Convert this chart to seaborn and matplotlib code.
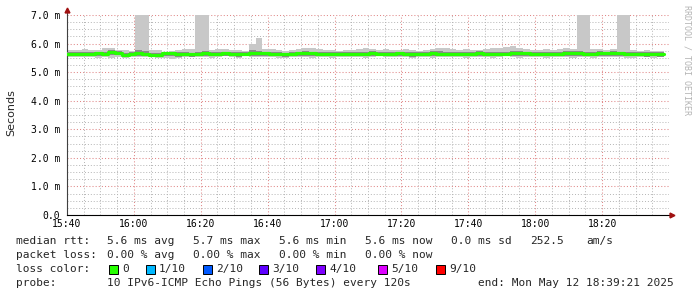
import numpy as np
import pandas as pd
import matplotlib
matplotlib.use("Agg")
import matplotlib.pyplot as plt
import seaborn as sns
from matplotlib.patches import Rectangle

# ---------------- data (ms), one value per 2-minute step ----------------
step_start = -1.6          # minutes after 15:40 of the first step edge
step_len = 2.0

median = [5.64,5.64,5.63,5.64,5.65,5.66,5.65,5.69,5.68,5.61,
          5.63,5.66,5.64,5.59,5.60,5.66,5.66,5.63,5.64,5.62,
          5.64,5.66,5.64,5.65,5.66,5.63,5.64,5.64,5.67,5.67,
          5.66,5.65,5.64,5.62,5.65,5.66,5.67,5.66,5.64,5.65,
          5.64,5.64,5.65,5.65,5.63,5.65,5.66,5.64,5.64,5.65,
          5.66,5.64,5.62,5.63,5.64,5.66,5.65,5.64,5.63,5.65,
          5.64,5.65,5.66,5.64,5.65,5.64,5.63,5.66,5.67,5.66,
          5.65,5.65,5.64,5.63,5.64,5.66,5.66,5.67,5.65,5.64,
          5.66,5.66,5.67,5.66,5.64,5.65,5.64,5.63,5.64,5.63]

hi = [5.78,
      5.78,5.76,5.80,5.76,5.78,5.84,5.86,5.79,5.76,5.74,
      7.20,7.20,5.78,5.76,5.72,5.74,5.76,5.82,5.80,7.20,
      7.20,5.78,5.80,5.82,5.78,5.76,5.74,6.00,6.20,5.82,
      5.80,5.78,5.74,5.76,5.80,5.84,5.86,5.80,5.78,5.76,
      5.74,5.76,5.78,5.80,5.86,5.82,5.78,5.80,5.76,5.78,
      5.80,5.78,5.74,5.76,5.82,5.86,5.84,5.82,5.78,5.80,
      5.76,5.78,5.82,5.84,5.86,5.88,5.90,5.84,5.80,5.78,
      5.76,5.80,5.78,5.82,5.84,5.82,7.20,7.20,5.82,5.80,
      5.78,5.80,7.20,7.20,5.78,5.74,5.76,5.74,5.74]

lo = [5.53,
      5.53,5.52,5.54,5.53,5.51,5.52,5.51,5.53,5.49,5.52,
      5.54,5.53,5.52,5.51,5.49,5.47,5.49,5.54,5.52,5.53,
      5.52,5.51,5.53,5.55,5.52,5.50,5.55,5.52,5.53,5.54,
      5.52,5.50,5.49,5.53,5.54,5.52,5.50,5.52,5.53,5.51,
      5.52,5.53,5.54,5.52,5.50,5.53,5.55,5.52,5.53,5.54,
      5.53,5.51,5.52,5.54,5.51,5.53,5.54,5.52,5.53,5.51,
      5.53,5.54,5.52,5.50,5.53,5.55,5.52,5.51,5.53,5.54,
      5.52,5.51,5.53,5.54,5.52,5.50,5.53,5.52,5.51,5.53,
      5.54,5.52,5.53,5.51,5.50,5.52,5.53,5.51,5.52]

q_hi = [5.70,
        5.70,5.69,5.71,5.70,5.72,5.72,5.76,5.74,5.68,5.69,
        5.76,5.74,5.66,5.67,5.70,5.70,5.69,5.72,5.68,5.72,
        5.74,5.70,5.72,5.72,5.69,5.70,5.69,5.76,5.74,5.72,
        5.71,5.70,5.68,5.71,5.72,5.74,5.72,5.70,5.71,5.70,
        5.70,5.72,5.71,5.70,5.72,5.73,5.70,5.71,5.72,5.72,
        5.71,5.69,5.70,5.71,5.73,5.73,5.72,5.70,5.71,5.70,
        5.71,5.73,5.72,5.71,5.72,5.70,5.74,5.74,5.72,5.72,
        5.71,5.70,5.70,5.71,5.73,5.74,5.75,5.72,5.71,5.73,
        5.72,5.74,5.72,5.71,5.71,5.70,5.69,5.70,5.69]

q_lo = [5.56,
        5.56,5.55,5.56,5.57,5.57,5.56,5.59,5.59,5.53,5.55,
        5.57,5.56,5.52,5.53,5.56,5.55,5.54,5.56,5.54,5.56,
        5.57,5.56,5.57,5.58,5.55,5.54,5.57,5.58,5.58,5.57,
        5.56,5.55,5.53,5.57,5.57,5.57,5.56,5.55,5.56,5.55,
        5.56,5.57,5.57,5.55,5.56,5.57,5.56,5.55,5.56,5.57,
        5.56,5.54,5.55,5.56,5.57,5.56,5.56,5.55,5.56,5.55,
        5.56,5.57,5.56,5.55,5.56,5.56,5.57,5.57,5.57,5.56,
        5.56,5.55,5.55,5.56,5.57,5.56,5.57,5.56,5.55,5.57,
        5.57,5.57,5.57,5.55,5.56,5.55,5.54,5.55,5.54]

x_ticks = [0, 20, 40, 60, 80, 100, 120, 140, 160]
x_labels = ["15:40", "16:00", "16:20", "16:40", "17:00", "17:20", "17:40", "18:00", "18:20"]
y_ticks = [0, 1, 2, 3, 4, 5, 6, 7]
y_labels = ["0.0", "1.0 m", "2.0 m", "3.0 m", "4.0 m", "5.0 m", "6.0 m", "7.0 m"]

loss_labels = ["0", "1/10", "2/10", "3/10", "4/10", "5/10", "9/10"]
loss_colors = ["#26ff00", "#00b8ff", "#0059ff", "#5e00ff", "#7e00ff", "#dd00ff", "#ff0000"]

# ---------------- figure ----------------
sns.set_style("white")
plt.rcParams["font.family"] = ["DejaVu Sans Mono", "DejaVu Sans"]

W, H = 697, 297
fig = plt.figure(figsize=(W / 100, H / 100), dpi=100)
ax = fig.add_axes([67 / W, (H - 215) / H, 602 / W, 200 / H])

n = len(median)
edges = step_start + step_len * np.arange(n + 1)
def ext(a):
    return list(a) + [a[-1]]

df = pd.DataFrame({"t": edges, "median": ext(median), "hi": ext(hi), "lo": ext(lo),
                   "q_hi": ext(q_hi), "q_lo": ext(q_lo)})

ax.fill_between(df["t"], df["lo"], df["hi"], step="post", color="#c8c8c8", lw=0, zorder=2)
ax.fill_between(df["t"], df["q_lo"], df["q_hi"], step="post", color="#8a8a8a", lw=0, zorder=3)
sns.lineplot(data=df, x="t", y="median", drawstyle="steps-post", color="#26ff00",
             lw=2.3, ax=ax, zorder=4)

ax.set_xlim(0, 180)
ax.set_ylim(0, 7.0)

# grid
ax.set_xticks(np.arange(0, 181, 5), minor=True)
ax.set_yticks(np.arange(0, 7.01, 0.25), minor=True)
ax.grid(which="minor", color="#b4b4b4", linestyle=(0, (1, 2)), lw=0.7, zorder=1)
ax.grid(which="major", color="#e08888", linestyle=(0, (1, 2)), lw=0.75, zorder=1)
ax.set_axisbelow(True)

ax.set_xticks(x_ticks)
ax.set_xticklabels(x_labels)
ax.set_yticks(y_ticks)
ax.set_yticklabels(y_labels)
ax.tick_params(axis="both", which="both", length=0, labelsize=7, colors="#000000")
ax.tick_params(axis="y", pad=5)
ax.tick_params(axis="x", pad=3)
ax.set_xlabel("")
ax.set_ylabel("")

for s in ["top", "right"]:
    ax.spines[s].set_visible(False)
ax.spines["left"].set_color("#404040")
ax.spines["left"].set_linewidth(0.8)
ax.spines["bottom"].set_color("#000000")
ax.spines["bottom"].set_linewidth(0.8)

# axis arrows
ax.plot([0, 0], [7.0, 7.12], color="#404040", lw=0.8, clip_on=False, zorder=5)
ax.plot([0], [7.17], marker="^", color="#a01010", ms=3.5, clip_on=False, zorder=6)
ax.plot([180, 180.6], [0, 0], color="#000000", lw=0.8, clip_on=False, zorder=5)
ax.plot([180.9], [0], marker=">", color="#a01010", ms=3.5, clip_on=False, zorder=6)

def T(x, y, s, **kw):
    fig.text(x / W, 1 - y / H, s, va="center", ha="left", fontsize=8,
             family="DejaVu Sans Mono", **kw)

fig.text(11 / W, 1 - 113 / H, "Seconds", rotation=90, va="center", ha="center",
         fontsize=8, family="DejaVu Sans")
fig.text(687 / W, 1 - 60 / H, "RRDTOOL / TOBI OETIKER", rotation=270, va="center",
         ha="center", fontsize=6, color="#b4b4b4", family="DejaVu Sans Mono")

# legend rows
T(16, 241, "median rtt:")
T(107, 241, "5.6 ms avg")
T(193, 241, "5.7 ms max")
T(279, 241, "5.6 ms min")
T(365, 241, "5.6 ms now")
T(451, 241, "0.0 ms sd")
T(530, 241, "252.5")
T(586, 241, "am/s")

T(16, 255, "packet loss:")
T(107, 255, "0.00 % avg")
T(193, 255, "0.00 % max")
T(279, 255, "0.00 % min")
T(365, 255, "0.00 % now")

T(16, 269, "loss color:")
sq_x = [109, 146, 203, 259, 316, 378, 436]
for xx, lab, col in zip(sq_x, loss_labels, loss_colors):
    fig.patches.append(Rectangle((xx / W, 1 - 274 / H), 9 / W, 9 / H,
                                 transform=fig.transFigure, facecolor=col,
                                 edgecolor="#000000", lw=0.7))
    T(xx + 13, 269, lab)

T(16, 283, "probe:")
T(107, 283, "10 IPv6-ICMP Echo Pings (56 Bytes) every 120s")
T(478, 283, "end: Mon May 12 18:39:21 2025")

fig.savefig("out.png", dpi=100)
